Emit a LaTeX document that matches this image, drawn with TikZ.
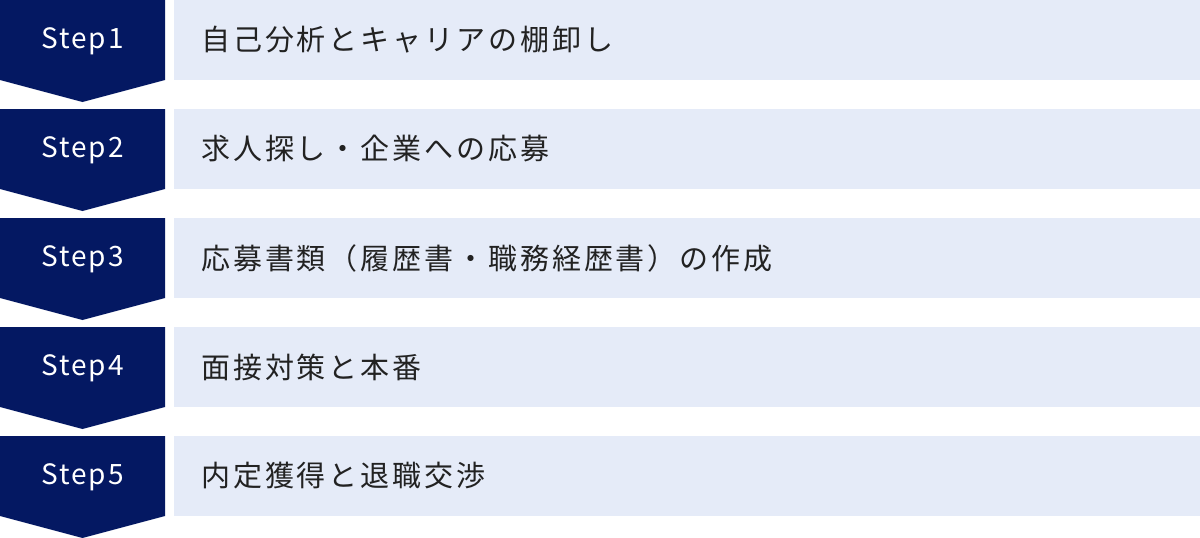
\documentclass[tikz,border=0pt]{standalone}
\usepackage{fontspec}
\newfontfamily\jpfont[LetterSpace=10]{Noto Sans CJK JP}
\newfontfamily\stepfont[LetterSpace=7]{Noto Sans CJK JP}
\definecolor{navy}{HTML}{041862}
\definecolor{pale}{HTML}{E5EBF8}
\definecolor{ink}{HTML}{222222}
\tikzset{
  steplabel/.style={text=white,font=\stepfont\fontsize{28}{30}\selectfont,anchor=center,inner sep=0pt},
  itemtext/.style={text=ink,font=\jpfont\fontsize{29}{31}\selectfont,anchor=west,inner sep=0pt},
}
\begin{document}
\begin{tikzpicture}[x=1pt,y=-1pt]
\useasboundingbox (0,0) rectangle (1200,538);
\foreach \i/\t in {0/{自己分析とキャリアの棚卸し},1/{求人探し・企業への応募},2/{応募書類（履歴書・職務経歴書）の作成},3/{面接対策と本番},4/{内定獲得と退職交渉}}{
  \pgfmathsetmacro{\y}{109*\i}
  \fill[navy] (0,\y) -- (165,\y) -- (165,\y+80) -- (82.5,\y+102) -- (0,\y+80) -- cycle;
  \fill[pale] (174,\y) rectangle (1200,\y+80);
  \pgfmathtruncatemacro{\n}{\i+1}
  \node[steplabel] (s\n) at (82.5,\y+41.5) {Step\n};
  \node[itemtext] (t\n) at (201,\y+40) {\t};
}
\end{tikzpicture}
\end{document}
